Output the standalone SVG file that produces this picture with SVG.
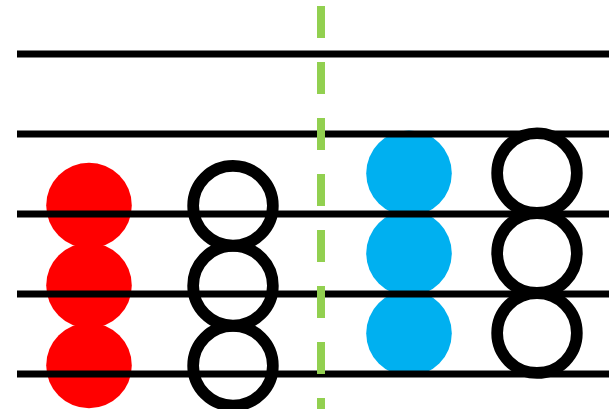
<svg xmlns="http://www.w3.org/2000/svg" width="615" height="409" viewBox="0 0 615 409">
  <style>
    .rod { stroke: #000; stroke-width: 7; }
    .red { fill: #FF0000; }
    .blue { fill: #00B0F0; }
    .ring { fill: none; stroke: #000; stroke-width: 11.7; }
    .divider { stroke: #92D050; stroke-width: 8; stroke-dasharray: 32 24; }
  </style>
  <rect width="615" height="409" fill="#FFFFFF"/>
  <g id="red-beads">
    <circle class="red" cx="89" cy="205.5" r="42.8"/>
    <circle class="red" cx="89" cy="285.5" r="42.8"/>
    <circle class="red" cx="89" cy="365.5" r="42.8"/>
  </g>
  <g id="blue-beads">
    <circle class="blue" cx="409" cy="173.3" r="42.8"/>
    <circle class="blue" cx="409" cy="253.3" r="42.8"/>
    <circle class="blue" cx="409" cy="333.3" r="42.8"/>
  </g>
  <g id="rods">
    <line class="rod" x1="17" y1="54" x2="609" y2="54"/>
    <line class="rod" x1="17" y1="134" x2="609" y2="134"/>
    <line class="rod" x1="17" y1="214" x2="609" y2="214"/>
    <line class="rod" x1="17" y1="294" x2="609" y2="294"/>
    <line class="rod" x1="17" y1="374" x2="609" y2="374"/>
  </g>
  <g id="left-rings">
    <circle class="ring" cx="233" cy="205.7" r="39.85"/>
    <circle class="ring" cx="233" cy="285.7" r="39.85"/>
    <circle class="ring" cx="233" cy="365.7" r="39.85"/>
  </g>
  <g id="right-rings">
    <circle class="ring" cx="537" cy="173.1" r="39.85"/>
    <circle class="ring" cx="537" cy="253.1" r="39.85"/>
    <circle class="ring" cx="537" cy="333.1" r="39.85"/>
  </g>
  <g id="divider">
    <line class="divider" x1="321" y1="6" x2="321" y2="409"/>
  </g>
</svg>
